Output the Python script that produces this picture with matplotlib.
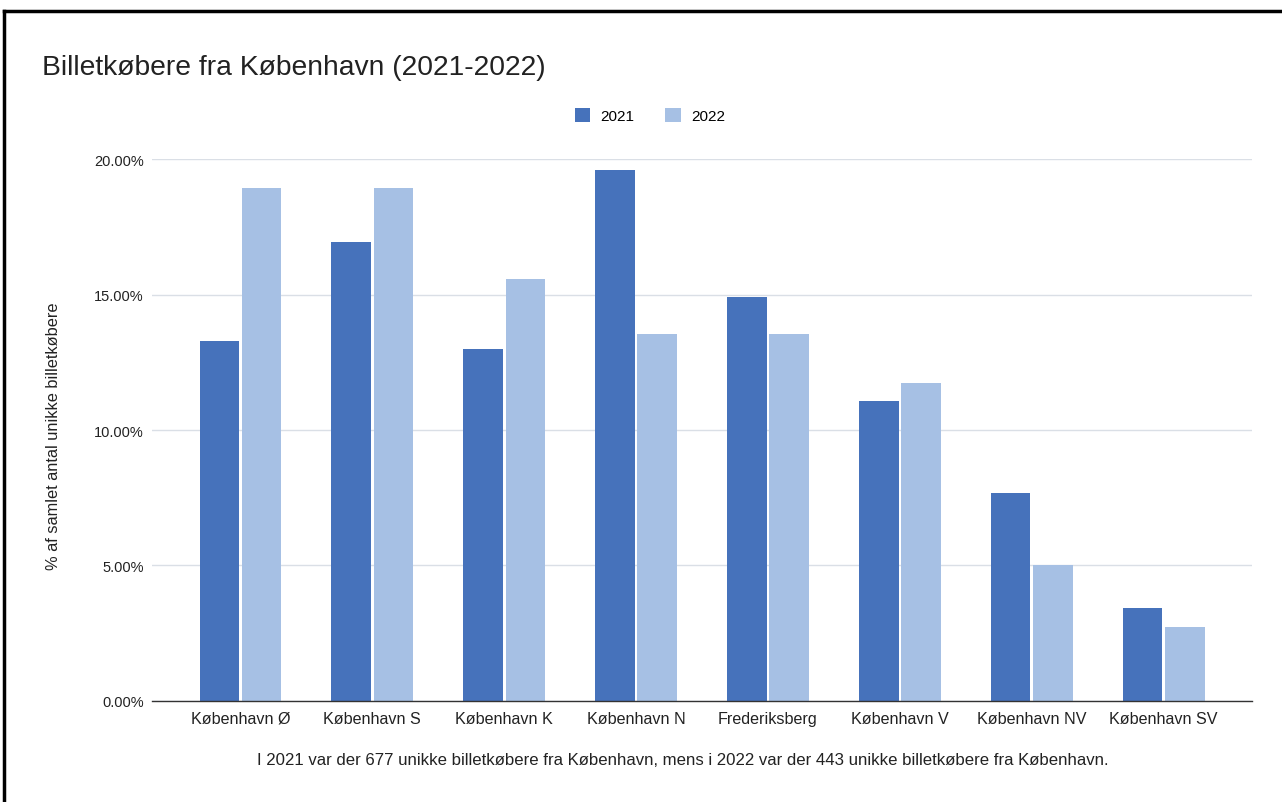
import numpy as np
import matplotlib.pyplot as plt
from matplotlib.lines import Line2D

plt.rcParams['font.family'] = ['Liberation Sans', 'DejaVu Sans']

# data (percent of unique ticket buyers)
districts = ['København Ø', 'København S', 'København K', 'København N',
             'Frederiksberg', 'København V', 'København NV', 'København SV']
pct_2021 = [13.27, 16.93, 12.98, 19.59, 14.90, 11.07, 7.66, 3.43]
pct_2022 = [18.92, 18.92, 15.57, 13.54, 13.54, 11.73, 5.03, 2.72]
yticks = [0, 5, 10, 15, 20]

c2021 = '#4672bb'
c2022 = '#a6c0e4'

fig = plt.figure(figsize=(12.82, 8.03), dpi=100, facecolor='white')
ax = fig.add_axes([0.1186, 0.1258, 0.8580, 0.6749])

x = np.arange(len(districts))
w = 0.30
ax.bar(x - w / 2 - 0.01, pct_2021, width=w, color=c2021, label='2021', zorder=3)
ax.bar(x + w / 2 + 0.01, pct_2022, width=w, color=c2022, label='2022', zorder=3)

ax.set_xlim(-0.67, 7.67)
ax.set_ylim(0, 20)
ax.set_yticks(yticks)
ax.set_yticklabels(['%.2f%%' % v for v in yticks], fontsize=10.5)
ax.set_xticks(x)
ax.set_xticklabels(districts, fontsize=11.6)
ax.tick_params(axis='both', length=0, colors='#222222')
ax.tick_params(axis='x', pad=7)
ax.tick_params(axis='y', pad=6)
ax.grid(axis='y', color='#dadfe6', linewidth=1.0, zorder=0)
for s in ['top', 'right', 'left']:
    ax.spines[s].set_visible(False)
ax.spines['bottom'].set_color('#333333')
ax.spines['bottom'].set_linewidth(1.0)
ax.spines['bottom'].set_zorder(4)

ax.set_ylabel('% af samlet antal unikke billetkøbere', fontsize=11.8,
              color='#222222')
ax.yaxis.set_label_coords(-0.083, 0.49)

fig.text(0.033, 0.915, 'Billetkøbere fra København (2021-2022)', fontsize=20.3,
         color='#222222', va='center', ha='left')

fig.legend(loc='center', bbox_to_anchor=(0.507, 0.855), ncol=2, frameon=False,
           fontsize=11, handlelength=1.0, handleheight=1.0, columnspacing=2.0,
           handletextpad=0.7)

fig.text(0.533, 0.053,
         'I 2021 var der 677 unikke billetkøbere fra København, mens i 2022 var der 443 unikke billetkøbere fra København.',
         fontsize=12.1, color='#222222', ha='center', va='center')

# frame lines (top and left) as in the screenshot
fig.add_artist(Line2D([0.0035, 1.0], [0.985, 0.985], color='black', linewidth=2.5,
                      transform=fig.transFigure))
fig.add_artist(Line2D([0.0035, 0.0035], [0.0, 0.985], color='black', linewidth=2.5,
                      transform=fig.transFigure))

fig.savefig('out.png', dpi=100, facecolor='white')
